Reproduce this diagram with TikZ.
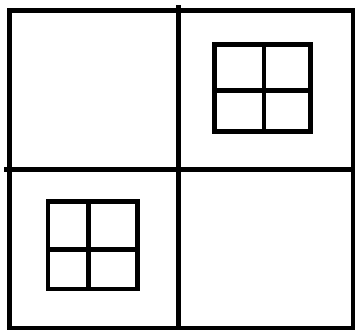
\documentclass[tikz,border=0pt]{standalone}
\begin{document}
\begin{tikzpicture}[x=1pt,y=-1pt,
  thick line/.style={line width=4.6pt,black},
  window/.style={line width=4.4pt,black}]
\useasboundingbox (0,0) rectangle (355,330);
% outer frame
\draw[thick line] (9.5,10.5) rectangle (353,328);
% dividers
\draw[thick line] (178.5,5) -- (178.5,330);
\draw[thick line] (4,169.5) -- (355,169.5);
% top-right window
\draw[window] (214.5,44.5) rectangle (310.5,131.5);
\draw[window] (264,44.5) -- (264,131.5);
\draw[window] (214.5,90.5) -- (310.5,90.5);
% bottom-left window
\draw[window] (48,201.5) rectangle (137.5,289);
\draw[window] (88.5,201.5) -- (88.5,289);
\draw[window] (48,249.5) -- (137.5,249.5);
\end{tikzpicture}
\end{document}
